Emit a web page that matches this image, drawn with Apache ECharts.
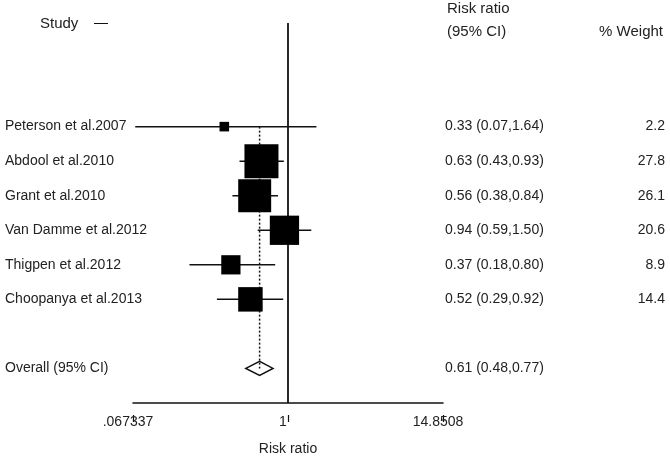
<!DOCTYPE html>
<html>
<head>
<meta charset="utf-8">
<script src="https://cdn.jsdelivr.net/npm/echarts@6/dist/echarts.min.js"></script>
<style>
  html, body { margin: 0; padding: 0; background: #fff; }
  #main { width: 670px; height: 459px; }
</style>
</head>
<body>
<div id="main"></div>
<script>
// 研究数据
var studies = ['Peterson et al.2007', 'Abdool et al.2010', 'Grant et al.2010', 'Van Damme et al.2012', 'Thigpen et al.2012', 'Choopanya et al.2013'];
var rr = [0.33, 0.63, 0.56, 0.94, 0.37, 0.52];
var lo = [0.07, 0.43, 0.38, 0.59, 0.18, 0.29];
var hi = [1.64, 0.93, 0.84, 1.50, 0.80, 0.92];
var weights = [2.2, 27.8, 26.1, 20.6, 8.9, 14.4];
var ciText = ['0.33 (0.07,1.64)', '0.63 (0.43,0.93)', '0.56 (0.38,0.84)', '0.94 (0.59,1.50)', '0.37 (0.18,0.80)', '0.52 (0.29,0.92)'];
var weightText = ['2.2', '27.8', '26.1', '20.6', '8.9', '14.4'];
var overallLabel = 'Overall (95% CI)';
var overallRR = 0.61, overallLo = 0.48, overallHi = 0.77;
var overallText = '0.61 (0.48,0.77)';
var tickValues = [0.067337, 1, 14.8508];
var tickLabels = ['.067337', '1', '14.8508'];

var overallRow = 8;
var font = 'Liberation Sans, Arial, sans-serif';
var txt = '#222';

function rowText(arr, last) {
    return function (v) {
        if (v >= 1 && v <= arr.length) return arr[v - 1];
        if (v === overallRow) return last;
        return '';
    };
}
function tickText(v) {
    for (var i = 0; i < tickValues.length; i++) {
        if (Math.abs(v - tickValues[i]) / tickValues[i] < 1e-3) return tickLabels[i];
    }
    return '';
}

var chart = echarts.init(document.getElementById('main'));

var studyData = rr.map(function (v, i) { return [v, i + 1, lo[i], hi[i], weights[i]]; });

var yBase = {
    type: 'value', min: -2, max: 9, interval: 1, inverse: true,
    axisLine: { show: false }, axisTick: { show: false }, splitLine: { show: false }
};

var option = {
    animation: false,
    grid: { left: 133, right: 227, top: 23, bottom: 56, outerBoundsMode: 'none', containLabel: false },
    textStyle: { fontFamily: font },
    xAxis: [{
        type: 'log', min: tickValues[0], max: tickValues[2],
        axisLine: { show: true, onZero: false, lineStyle: { color: '#111', width: 1.5 } },
        axisTick: { show: false }, axisLabel: { show: false }, splitLine: { show: false },
        name: 'Risk ratio', nameLocation: 'middle', nameGap: 39,
        nameTextStyle: { color: txt, fontSize: 14, fontFamily: font }
    }, {
        type: 'log', min: tickValues[0], max: tickValues[2], position: 'bottom', offset: 12,
        axisLine: { show: false, onZero: false }, splitLine: { show: false },
        axisTick: { show: true, customValues: tickValues, length: 7, lineStyle: { color: '#111', width: 1.2 } },
        axisLabel: { show: true, customValues: tickValues, formatter: tickText, margin: 0,
            color: txt, fontSize: 14, fontFamily: font, padding: [0, 10, 0, 0], showMinLabel: true, showMaxLabel: true }
    }],
    yAxis: [
        Object.assign({}, yBase, { position: 'left',
            axisLabel: { formatter: rowText(studies, overallLabel), align: 'left', margin: 128,
                color: txt, fontSize: 14, fontFamily: font, padding: [0, 0, 8, 0] } }),
        Object.assign({}, yBase, { position: 'right',
            axisLabel: { formatter: rowText(ciText, overallText), align: 'left', margin: 2,
                color: txt, fontSize: 14, fontFamily: font, padding: [0, 0, 8, 0] } }),
        Object.assign({}, yBase, { position: 'right',
            axisLabel: { formatter: rowText(weightText, ''), align: 'right', margin: 222,
                color: txt, fontSize: 14, fontFamily: font, padding: [0, 0, 8, 0] } })
    ],
    graphic: [
        { type: 'text', left: 40, top: 16, style: { text: 'Study', fill: txt, font: '15px ' + font } },
        { type: 'text', left: 94, top: 16, style: { text: '\u2014', fill: '#111', font: '14px ' + font } },
        { type: 'text', left: 447, top: 1, style: { text: 'Risk ratio', fill: txt, font: '15px ' + font } },
        { type: 'text', left: 447, top: 24, style: { text: '(95% CI)', fill: txt, font: '15px ' + font } },
        { type: 'text', right: 7, top: 24, style: { text: '% Weight', fill: txt, font: '15px ' + font } }
    ],
    series: [{
        // 无效线 RR = 1
        type: 'line', symbol: 'none', z: 2,
        data: [[1, -2], [1, 9]],
        lineStyle: { color: '#111', width: 1.8 }
    }, {
        // 合并效应虚线
        type: 'line', symbol: 'none', z: 4,
        data: [[overallRR, 1], [overallRR, overallRow]],
        lineStyle: { color: '#111', width: 1.5, type: [2, 2] }
    }, {
        type: 'custom', z: 3,
        data: [[overallRR, overallRow, overallLo, overallHi]],
        renderItem: function (params, api) {
            var c = api.coord([api.value(0), api.value(1)]);
            var l = api.coord([api.value(2), api.value(1)]);
            var h = api.coord([api.value(3), api.value(1)]);
            return {
                type: 'polygon',
                shape: { points: [[l[0], c[1]], [c[0], c[1] - 7], [h[0], c[1]], [c[0], c[1] + 7]] },
                style: { fill: '#fff', stroke: '#111', lineWidth: 1.5 }
            };
        }
    }, {
        type: 'custom', z: 5,
        data: studyData,
        renderItem: function (params, api) {
            var y = api.value(1);
            var c = api.coord([api.value(0), y]);
            var l = api.coord([api.value(2), y]);
            var h = api.coord([api.value(3), y]);
            var s = 6.45 * Math.sqrt(api.value(4));
            return {
                type: 'group',
                children: [{
                    type: 'line',
                    shape: { x1: l[0], y1: c[1], x2: h[0], y2: c[1] },
                    style: { stroke: '#111', lineWidth: 1.5 }
                }, {
                    type: 'rect',
                    shape: { x: c[0] - s / 2, y: c[1] - s / 2, width: s, height: s },
                    style: { fill: '#000' }
                }]
            };
        }
    }]
};

chart.setOption(option);
</script>
</body>
</html>
